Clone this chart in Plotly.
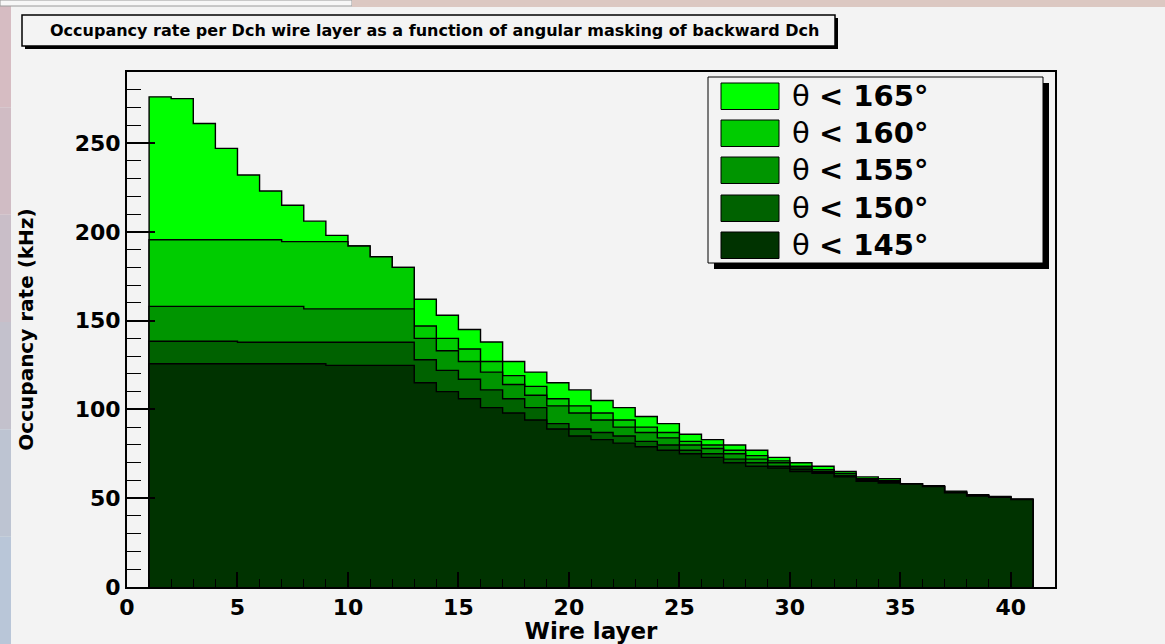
import numpy as np
import plotly.graph_objects as go

# ---------------- data ----------------
layers = list(range(1, 41))          # wire layer bins (bin i spans [i, i+1])
series_labels = ["θ < 165°", "θ < 160°", "θ < 155°", "θ < 150°", "θ < 145°"]

rate_165 = [276, 275, 261, 247, 232, 223, 215, 206, 198, 192, 186, 180,
            162, 153, 145, 138, 127, 121, 115, 111, 105, 101, 96, 92, 86, 83, 80,
            77, 73, 70, 68, 65, 62, 61, 58, 57, 54, 52, 51, 49.4]
rate_160 = [195.5, 195.5, 195.5, 195.5, 195.5, 195.5, 194.5, 194.5, 194.5, 192, 186, 180,
            147, 140, 134, 127, 119, 113, 106, 102, 98, 94, 90, 87, 82, 80, 77,
            74, 71, 68, 66, 64, 61, 60, 58, 56.6, 53.5, 51.5, 50.7, 49.3]
rate_155 = [158, 158, 158, 158, 158, 158, 158, 156.6, 156.6, 156.6, 156.6, 156.6,
            140, 133, 127, 121, 114, 108, 102, 98, 94, 90, 87, 84, 80, 78, 75,
            72, 70, 67, 65, 63, 60.5, 59.5, 58, 56.5, 53.2, 51.3, 50.5, 49.3]
rate_150 = [138.4, 138.4, 138.4, 138.4, 137.8, 137.8, 137.8, 137.8, 137.8, 137.8, 137.8, 137.8,
            128, 122, 117, 111, 106, 101, 92, 89, 87, 85, 82, 80, 77, 75, 72,
            70, 68, 66, 64.5, 62.5, 60, 59, 58, 56.5, 53, 51.2, 50.5, 49.3]
rate_145 = [125.7, 125.7, 125.7, 125.7, 125.7, 125.7, 125.7, 125.7, 124.8, 124.8, 124.8, 124.8,
            115, 110, 106, 101, 98, 94, 89, 85, 83, 81, 79, 77, 75, 73, 70,
            68, 67, 65, 64, 62, 59.5, 58.5, 58, 56.5, 53, 51.2, 50.5, 49.3]

series_values = [rate_165, rate_160, rate_155, rate_150, rate_145]
fill_colors = ["#00ff00", "#00cc00", "#009500", "#006200", "#003300"]

title_text = "Occupancy rate per Dch wire layer as a function of angular masking of backward Dch"
x_title = "Wire layer"
y_title = "Occupancy rate (kHz)"
x_ticks = [0, 5, 10, 15, 20, 25, 30, 35, 40]
y_ticks = [0, 50, 100, 150, 200, 250]

# ---------------- geometry (pixels) ----------------
W, H = 1165, 644
L, R, T, B = 127, 1055, 72, 587
BG = "#f3f3f3"


def px(x):
    return (x - L) / (R - L)


def py(y):
    return (B - y) / (B - T)


fig = go.Figure()

edges = np.array(layers + [layers[-1] + 1], dtype=float)
for name, vals, col in zip(series_labels, series_values, fill_colors):
    xs = [edges[0]] + list(edges[:-1]) + [edges[-1], edges[-1]]
    ys = [0] + list(vals) + [vals[-1], 0]
    fig.add_trace(go.Scatter(
        x=xs, y=ys, mode="lines", line=dict(shape="hv", color="black", width=1.4),
        fill="tozeroy", fillcolor=col, name=name, showlegend=False,
        hoverinfo="skip"))

shapes = []
# screenshot border artefacts
band_cols = ["#d6bcc2", "#d0bcc4", "#c9bec8", "#c3c1cc", "#bdc4d2", "#b9c6d8"]
n = len(band_cols)
for i, c in enumerate(band_cols):
    shapes.append(dict(type="rect", xref="paper", yref="paper",
                       x0=px(0), x1=px(11), y0=py(H * i / n), y1=py(H * (i + 1) / n),
                       fillcolor=c, line=dict(width=0), layer="below"))
shapes.append(dict(type="rect", xref="paper", yref="paper",
                   x0=px(0), x1=px(352), y0=py(0), y1=py(6),
                   fillcolor="#f7f7f7", line=dict(color="#9a9a9a", width=1), layer="below"))
shapes.append(dict(type="rect", xref="paper", yref="paper",
                   x0=px(352), x1=px(W), y0=py(0), y1=py(7),
                   fillcolor="#dcc8c2", line=dict(width=0), layer="below"))

# title box with shadow
shapes.append(dict(type="rect", xref="paper", yref="paper",
                   x0=px(25), x1=px(838), y0=py(18), y1=py(49),
                   fillcolor="black", line=dict(width=0)))
shapes.append(dict(type="rect", xref="paper", yref="paper",
                   x0=px(22), x1=px(835), y0=py(15), y1=py(46),
                   fillcolor=BG, line=dict(color="black", width=1.5)))

# legend box with shadow
shapes.append(dict(type="rect", xref="paper", yref="paper",
                   x0=px(714), x1=px(1049), y0=py(83), y1=py(269),
                   fillcolor="black", line=dict(width=0)))
shapes.append(dict(type="rect", xref="paper", yref="paper",
                   x0=px(708), x1=px(1043), y0=py(77), y1=py(263),
                   fillcolor=BG, line=dict(color="black", width=1)))

annotations = []
row_tops = [83, 120, 157, 195, 232]
for name, col, top in zip(series_labels, fill_colors, row_tops):
    shapes.append(dict(type="rect", xref="paper", yref="paper",
                       x0=px(721), x1=px(779), y0=py(top), y1=py(top + 26.5),
                       fillcolor=col, line=dict(color="black", width=1)))
    sym, rest = name.split(" ", 1)
    annotations.append(dict(
        xref="paper", yref="paper", x=px(790), y=py(top + 13), xanchor="left", yanchor="middle",
        text=sym + " <b>" + rest.replace("<", "&lt;") + "</b>", showarrow=False,
        font=dict(family="DejaVu Sans", size=29, color="black")))

annotations.append(dict(
    xref="paper", yref="paper", x=px(434), y=py(30), xanchor="center", yanchor="middle",
    text="<b>" + title_text + "</b>", showarrow=False,
    font=dict(family="DejaVu Sans", size=16, color="black")))

fig.update_layout(
    width=W, height=H,
    margin=dict(l=L, r=W - R, t=T, b=H - B, autoexpand=False),
    paper_bgcolor=BG, plot_bgcolor=BG,
    shapes=shapes, annotations=annotations,
    showlegend=False,
)

axis_font = dict(family="DejaVu Sans", size=22, color="black", weight="bold")
fig.update_xaxes(
    range=[0, 42], tickvals=x_ticks, ticktext=[str(v) for v in x_ticks],
    ticks="inside", ticklen=15, tickwidth=1.5, tickcolor="black",
    minor=dict(dtick=1, ticks="inside", ticklen=8, tickcolor="black", tickwidth=1),
    showline=True, linecolor="black", linewidth=2, mirror=True,
    showgrid=False, zeroline=False, tickfont=axis_font,
    title=dict(text=x_title, font=dict(family="DejaVu Sans", size=23, color="black", weight="bold"),
               standoff=0),
    automargin=False, layer="above traces",
)
fig.update_yaxes(
    range=[0, 290], tickvals=y_ticks, ticktext=[str(v) for v in y_ticks],
    ticks="inside", ticklen=28, tickwidth=1.5, tickcolor="black",
    minor=dict(dtick=10, ticks="inside", ticklen=14, tickcolor="black", tickwidth=1),
    showline=True, linecolor="black", linewidth=2, mirror=True,
    showgrid=False, zeroline=False, tickfont=axis_font,
    title=dict(text=y_title, font=dict(family="DejaVu Sans", size=20, color="black", weight="bold"),
               standoff=36),
    automargin=False, layer="above traces",
)

fig.write_html("out.html")
